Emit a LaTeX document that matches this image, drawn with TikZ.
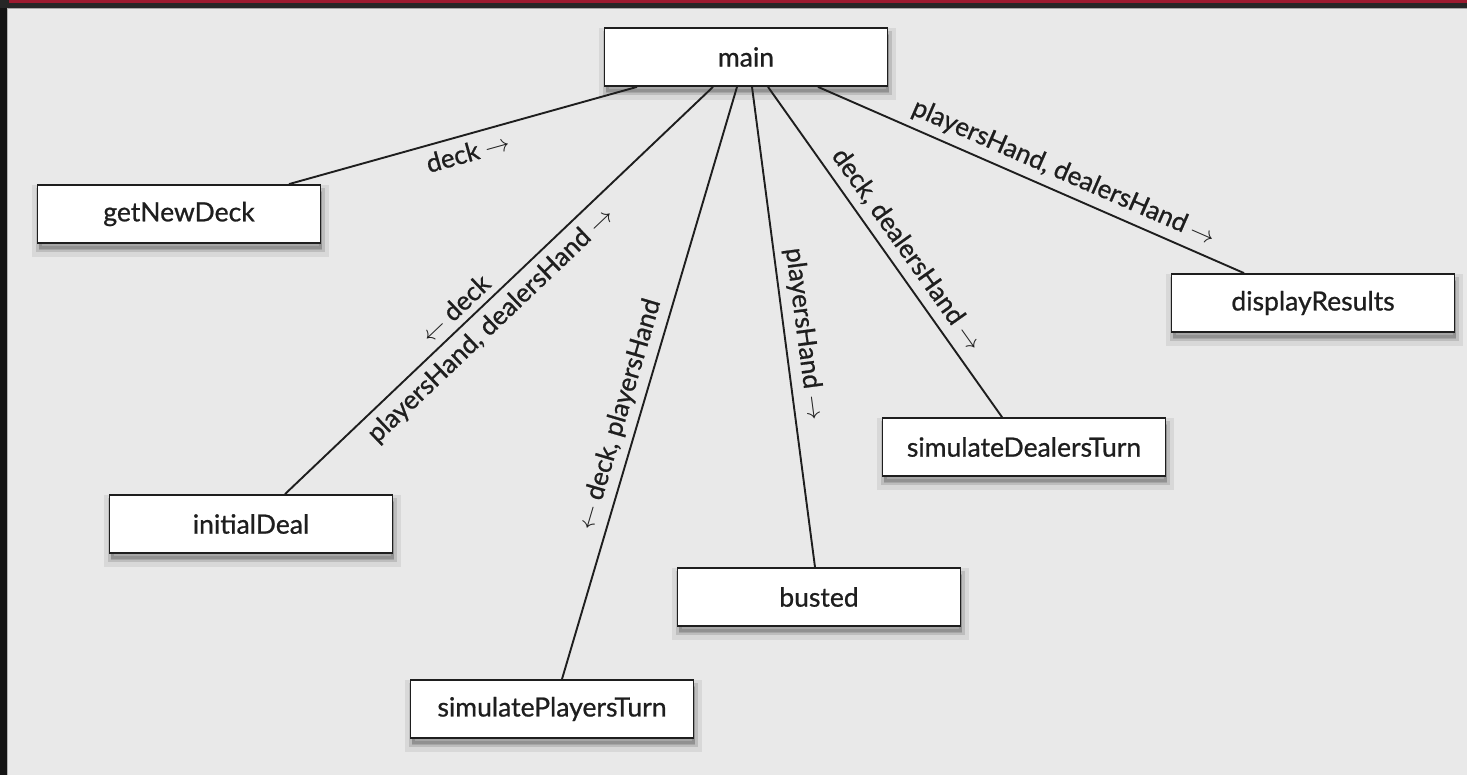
\documentclass[tikz,border=0pt]{standalone}
\usepackage{fontspec}
\setmainfont{Lato}[FakeBold=0.8]
\definecolor{bg}{HTML}{E9E9E9}
\definecolor{frame}{HTML}{262626}
\definecolor{framedark}{HTML}{141414}
\definecolor{topred}{HTML}{9B1A2F}
\definecolor{ink}{HTML}{1E1E1E}
\tikzset{
  fnbox/.style={draw=ink, line width=1.8pt, fill=white, text=ink,
    minimum width=283pt, minimum height=58pt, inner sep=0pt,
    font=\fontsize{26.5}{30}\selectfont,
    preaction={fill=black, fill opacity=0.12, draw=black, draw opacity=0.07,
      line width=14pt, transform canvas={xshift=1pt,yshift=-7pt}},
    preaction={fill=black, fill opacity=0.12, draw=black, draw opacity=0.12,
      line width=6pt, transform canvas={xshift=1pt,yshift=-6pt}}},
  conn/.style={draw=ink, line width=1.9pt},
  elabel/.style={sloped, text=ink, inner sep=3pt, font=\fontsize{26}{30}\selectfont}
}
\begin{document}
\begin{tikzpicture}[x=1pt,y=-1pt]
\useasboundingbox (0,0) rectangle (1467,775);
% frame
\fill[bg] (0,0) rectangle (1467,775);
\fill[frame] (0,0) rectangle (1467,8);
\fill[topred] (9,0) rectangle (1467,3);
\fill[framedark] (0,0) rectangle (7,775);
\fill[frame] (0,0) rectangle (7,8);
\draw[gray!70, line width=0.8pt] (7,8.5) -- (1467,8.5);
\draw[gray!60, line width=0.8pt] (7.5,8) -- (7.5,775);

% boxes
\node[fnbox] (main) at (746,57) {main};
\node[fnbox] (gnd) at (179,214) {getNewDeck};
\node[fnbox] (ideal) at (251,524) {initialDeal};
\node[fnbox] (spt) at (552,709) {simulatePlayersTurn};
\node[fnbox] (busted) at (819,597) {busted};
\node[fnbox] (sdt) at (1024,447) {simulateDealersTurn};
\node[fnbox] (disp) at (1313,303) {displayResults};

% connectors
\draw[conn] ([xshift=-109pt]main.south) -- ([xshift=110pt]gnd.north)
  node[elabel, pos=0.5, below=4pt] {deck $\rightarrow$};
\draw[conn] ([xshift=-33pt]main.south) -- ([xshift=34pt]ideal.north)
  node[elabel, pos=0.575, above=4pt] {$\leftarrow$ deck}
  node[elabel, pos=0.55, below=4pt] {playersHand, dealersHand $\rightarrow$};
\draw[conn] ([xshift=-9pt]main.south) -- ([xshift=10pt]spt.north)
  node[elabel, pos=0.563, above=4pt] {$\leftarrow$ deck, playersHand};
\draw[conn] ([xshift=6pt]main.south) -- ([xshift=-4pt]busted.north)
  node[elabel, pos=0.52, above=4pt] {playersHand $\rightarrow$};
\draw[conn] ([xshift=22pt]main.south) -- ([xshift=-22pt]sdt.north)
  node[elabel, pos=0.527, above=4pt] {deck, dealersHand $\rightarrow$};
\draw[conn] ([xshift=72pt]main.south) -- ([xshift=-69pt]disp.north)
  node[elabel, pos=0.559, above=4pt] {playersHand, dealersHand $\rightarrow$};
\end{tikzpicture}
\end{document}
